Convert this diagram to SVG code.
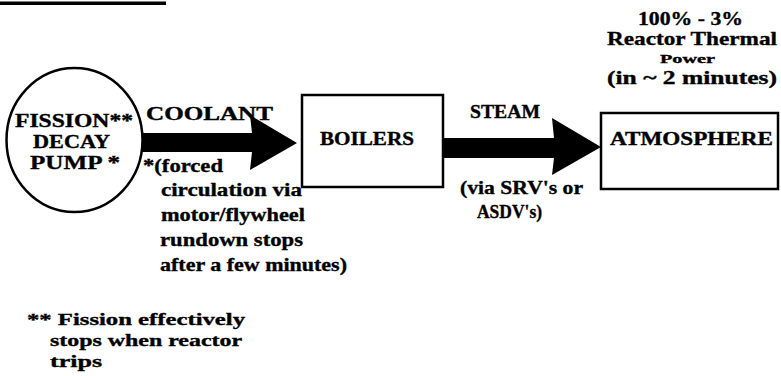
<svg xmlns="http://www.w3.org/2000/svg" width="781" height="376" viewBox="0 0 781 376">
<style>
.t{font-family:"Liberation Serif","Times New Roman",serif;font-weight:bold;fill:#000;stroke:#000;stroke-width:0.35}
.b{font-size:18px}
.n{font-size:19px}
.s{font-size:17px}
.box{fill:#fff;stroke:#000;stroke-width:2.5}
.arr{fill:#000;stroke:none}
</style>
<rect x="0" y="1.5" width="166" height="3.5" fill="#000"/>
<g id="connectors">
<polygon class="arr" points="142,133 252,133 250,115 297,143 250,170 252,152 142,152"/>
<polygon class="arr" points="443,138 554,138 552,118 601,147 552,175 554,158 443,158"/>
</g>
<g id="pump">
<ellipse cx="74.5" cy="140" rx="68" ry="72" fill="#fff" stroke="#000" stroke-width="2.5"/>
<text class="t b" x="15" y="127" textLength="118" lengthAdjust="spacingAndGlyphs">FISSION**</text>
<text class="t b" x="33" y="148" textLength="77" lengthAdjust="spacingAndGlyphs">DECAY</text>
<text class="t b" x="30" y="169" textLength="90" lengthAdjust="spacingAndGlyphs">PUMP *</text>
</g>
<g id="boilers">
<rect class="box" x="302" y="95" width="141" height="92"/>
<text class="t b" x="320" y="145" textLength="94" lengthAdjust="spacingAndGlyphs">BOILERS</text>
</g>
<g id="atmosphere">
<rect class="box" x="601" y="113" width="177" height="76"/>
<text class="t b" x="610" y="145" textLength="163" lengthAdjust="spacingAndGlyphs">ATMOSPHERE</text>
</g>
<g id="labels">
<text class="t b" x="146" y="120" textLength="127" lengthAdjust="spacingAndGlyphs">COOLANT</text>
<text class="t n" x="143" y="172" textLength="80" lengthAdjust="spacingAndGlyphs">*(forced</text>
<text class="t n" x="161" y="196" textLength="141" lengthAdjust="spacingAndGlyphs">circulation via</text>
<text class="t n" x="161" y="221" textLength="144" lengthAdjust="spacingAndGlyphs">motor/flywheel</text>
<text class="t n" x="160" y="246" textLength="143" lengthAdjust="spacingAndGlyphs">rundown stops</text>
<text class="t n" x="160" y="271" textLength="187" lengthAdjust="spacingAndGlyphs">after a few minutes)</text>
<text class="t b" x="470" y="118" textLength="70" lengthAdjust="spacingAndGlyphs">STEAM</text>
<text class="t n" x="460" y="194" textLength="123" lengthAdjust="spacingAndGlyphs">(via SRV's or</text>
<text class="t n" x="477" y="218" textLength="65" lengthAdjust="spacingAndGlyphs">ASDV's)</text>
<text class="t n" x="638" y="25" textLength="105" lengthAdjust="spacingAndGlyphs">100% - 3%</text>
<text class="t n" x="607" y="45" textLength="170" lengthAdjust="spacingAndGlyphs">Reactor Thermal</text>
<text class="t" style="font-size:13px" x="660" y="63" textLength="55" lengthAdjust="spacingAndGlyphs">Power</text>
<text class="t n" x="607" y="84" textLength="170" lengthAdjust="spacingAndGlyphs">(in ~ 2 minutes)</text>
<text class="t s" x="27" y="325" textLength="218" lengthAdjust="spacingAndGlyphs">** Fission effectively</text>
<text class="t s" x="50" y="346" textLength="192" lengthAdjust="spacingAndGlyphs">stops when reactor</text>
<text class="t s" x="50" y="367" textLength="52" lengthAdjust="spacingAndGlyphs">trips</text>
</g>
</svg>
